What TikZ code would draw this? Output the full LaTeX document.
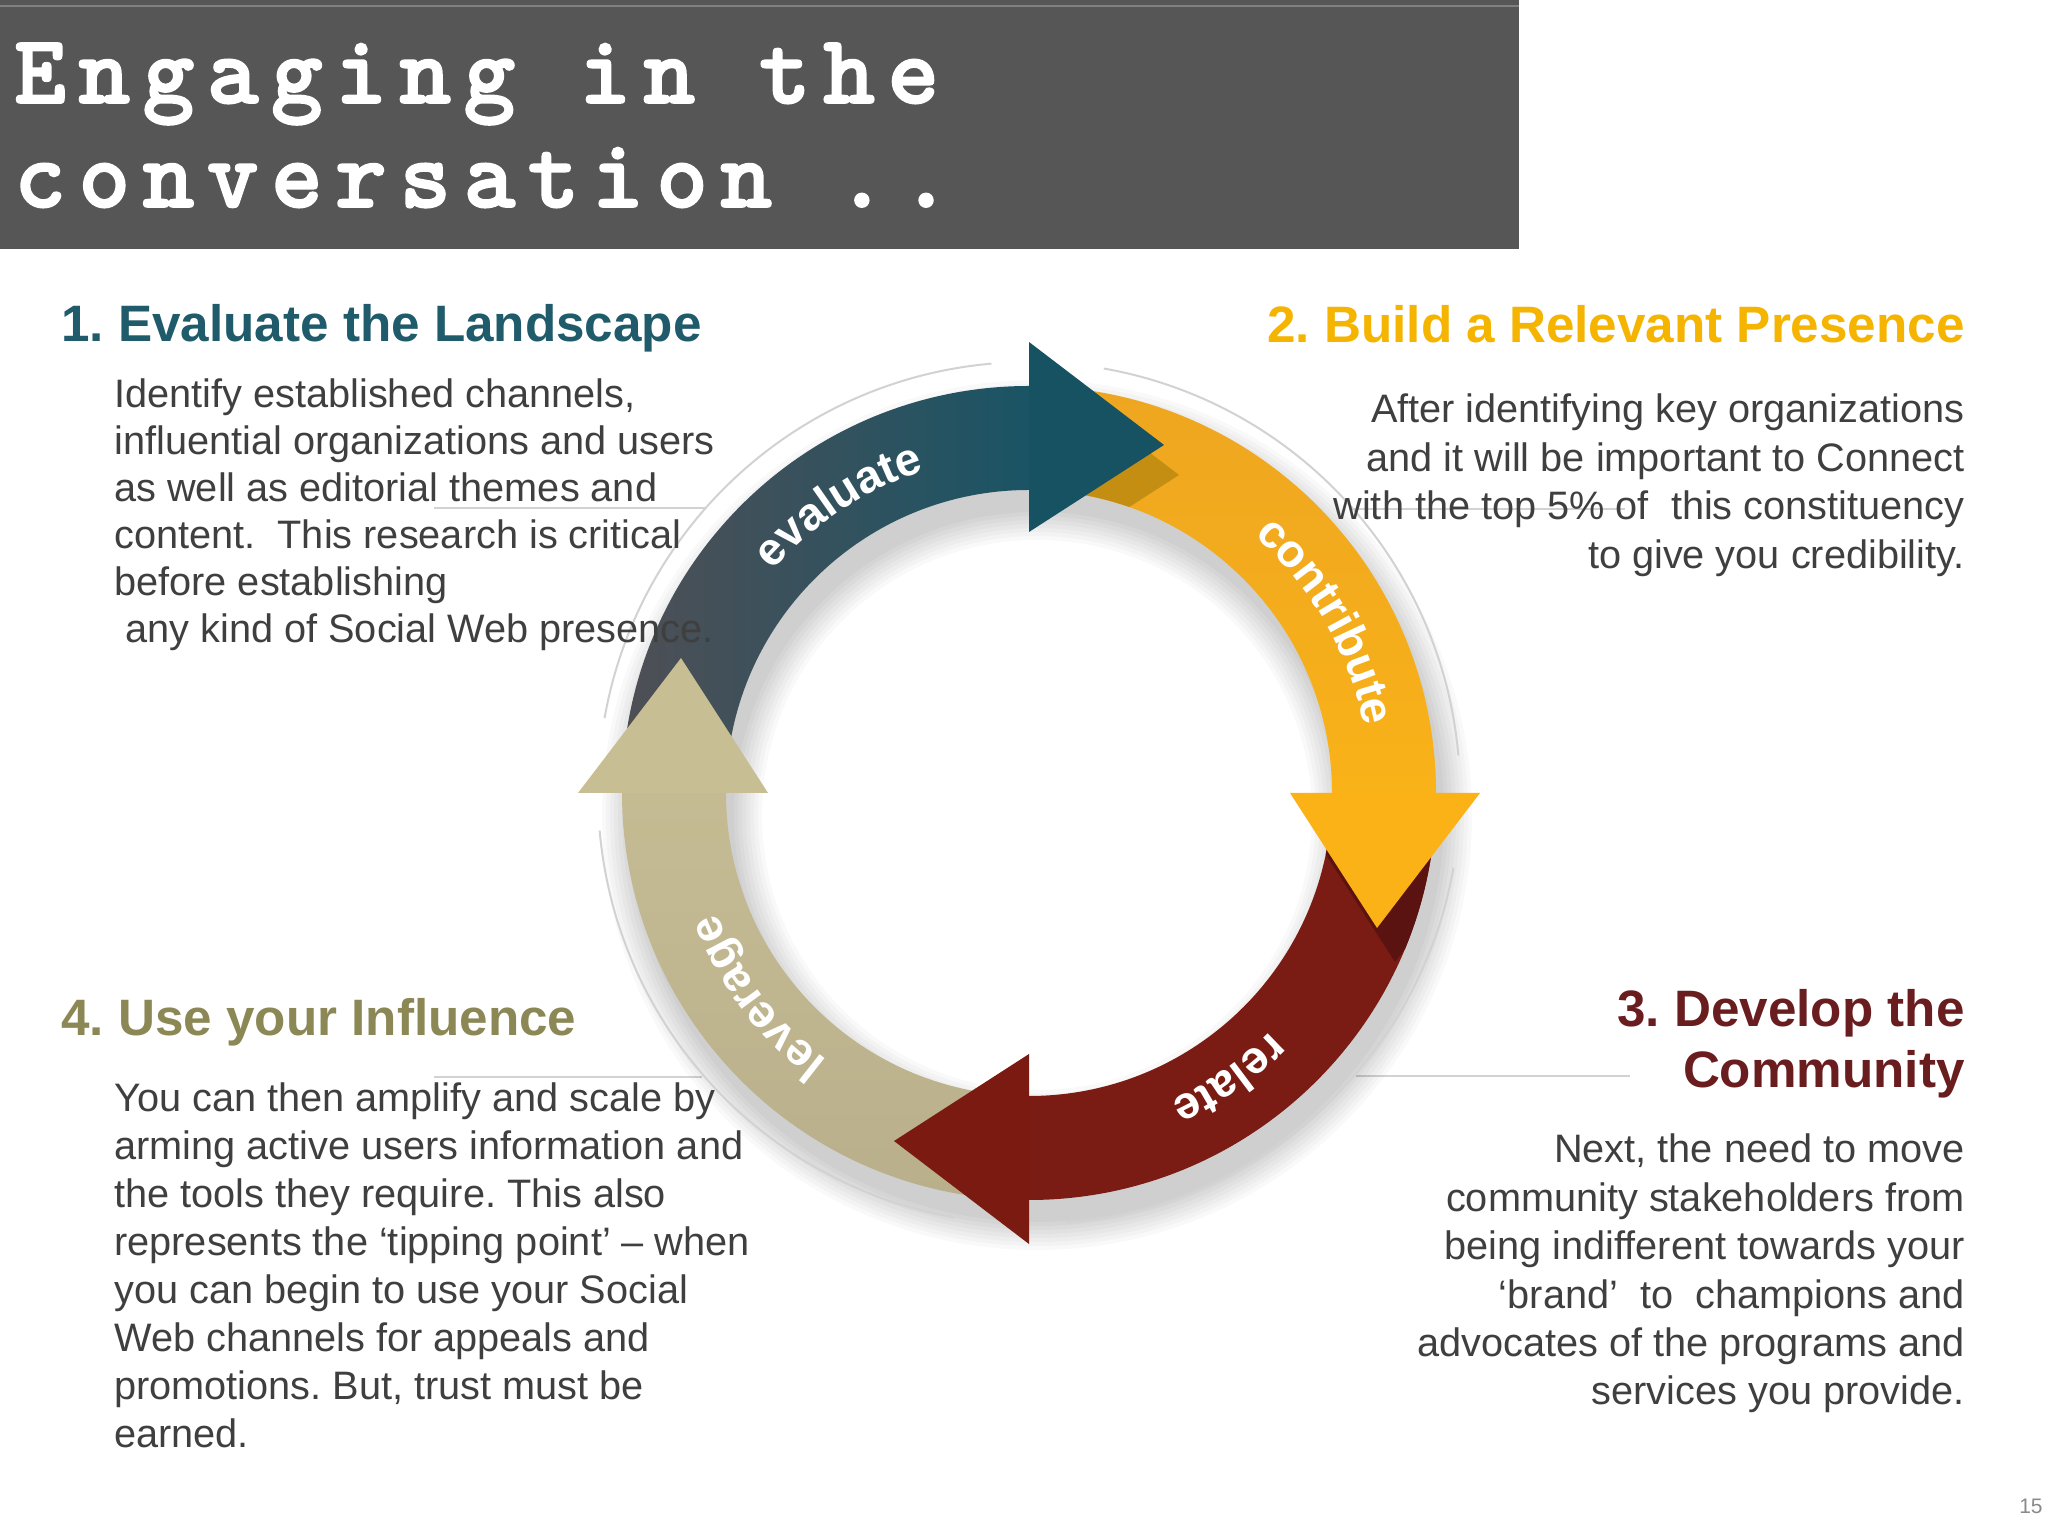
\documentclass[tikz,border=0pt]{standalone}
\usepackage{fontspec}
\setmainfont{Liberation Sans}
\newfontfamily\titlefont{lmmonolt10-bold.otf}[LetterSpace=13, FakeBold=2]
\usetikzlibrary{decorations.text}
\frenchspacing
\definecolor{titlebar}{HTML}{565656}
\definecolor{headteal}{HTML}{1F5B6A}
\definecolor{headgold}{HTML}{F5B400}
\definecolor{headmaroon}{HTML}{6A1D1F}
\definecolor{headolive}{HTML}{8B8856}
\definecolor{bodytext}{HTML}{3F3F3F}
\definecolor{numgray}{HTML}{8A8A8A}
\definecolor{evgray}{HTML}{4F4F55}
\definecolor{evteal}{HTML}{1A5465}
\definecolor{evhead}{HTML}{175262}
\definecolor{goldA}{HTML}{EEA621}
\definecolor{goldB}{HTML}{F9B218}
\definecolor{goldhead}{HTML}{FAB216}
\definecolor{goldshadow}{HTML}{C48E12}
\definecolor{redbody}{HTML}{7A1C13}
\definecolor{redhead}{HTML}{7A1A11}
\definecolor{redshadow}{HTML}{5A1310}
\definecolor{khakiA}{HTML}{B9AF8B}
\definecolor{khakiB}{HTML}{C5BB93}
\definecolor{khakihead}{HTML}{C8BE93}
\definecolor{faintline}{HTML}{D2D2D2}
\newcommand\arclabelfont{\bfseries\fontsize{23}{23}\selectfont}
\tikzset{
  titletext/.style={font={\titlefont\fontsize{49}{50}\selectfont}, text=white, inner sep=0pt},
  headtext/.style={font={\bfseries\fontsize{25.6}{30.5}\selectfont}, inner sep=0pt},
  bodypara/.style={text=bodytext, inner sep=0pt},
  decoline/.style={draw=faintline, line width=1.4pt},
  faintarc/.style={draw=faintline, line width=1pt},
  arclabel/.style={decorate, decoration={text along path, text align=center, text color=white}},
}
\begin{document}
\begin{tikzpicture}[x=0.5pt,y=0.5pt]
\useasboundingbox (0,0) rectangle (2048,1536);
\fill[white] (0,0) rectangle (2048,1536);
% title bar
\fill[titlebar] (0,1287) rectangle (1519,1536);
\draw[color=white!25!titlebar, line width=1pt] (0,1530) -- (1519,1530);
\node[titletext, anchor=base west] (title1) at (14,1433) {Engaging in the};
\node[titletext, anchor=base west] (title2) at (14,1329) {conversation ..};
% decorative lines
\draw[decoline] (434,1028) -- (706,1028);
\draw[decoline] (1352,1027) -- (1625,1027);
\draw[decoline] (434,459) -- (702,459);
\draw[decoline] (1356,460) -- (1630,460);
% cycle
\begin{scope}[shift={(1029,743)}]
  % soft shadow
  \foreach \k in {0,...,7}{
    \fill[black, opacity=0.022, even odd rule] (8,-22) circle[radius=407+4*\k] (8,-22) circle[radius=303-4*\k];
  }
  % faint outer arcs
  \draw[faintarc] (95:431) arc[start angle=95, end angle=170, radius=431];
  \draw[faintarc] (185:431) arc[start angle=185, end angle=260, radius=431];
  \draw[faintarc] (275:431) arc[start angle=275, end angle=350, radius=431];
  \draw[faintarc] (5:431) arc[start angle=5, end angle=80, radius=431];
  % bodies
  \shade[left color=evgray, right color=evteal]
    (175:407) arc[start angle=175, end angle=90, radius=407] -- (90:303) arc[start angle=90, end angle=175, radius=303] -- cycle;
  \shade[top color=goldA, bottom color=goldB]
    (85:407) arc[start angle=85, end angle=0, radius=407] -- (0:303) arc[start angle=0, end angle=85, radius=303] -- cycle;
  \fill[redbody]
    (-5:407) arc[start angle=-5, end angle=-90, radius=407] -- (-90:303) arc[start angle=-90, end angle=-5, radius=303] -- cycle;
  \shade[bottom color=khakiA, top color=khakiB]
    (265:407) arc[start angle=265, end angle=180, radius=407] -- (180:303) arc[start angle=180, end angle=265, radius=303] -- cycle;
  % head shadows
  \begin{scope}
    \clip (85:407) arc[start angle=85, end angle=0, radius=407] -- (0:303) arc[start angle=0, end angle=85, radius=303] -- cycle;
    \fill[goldshadow, shift={(15,-30)}] (90:261) -- (90:451) -- (68.8:373.3) -- cycle;
  \end{scope}
  \begin{scope}
    \clip (-5:407) arc[start angle=-5, end angle=-90, radius=407] -- (-90:303) arc[start angle=-90, end angle=-5, radius=303] -- cycle;
    \fill[redshadow, shift={(18,-34)}] (0:261) -- (0:451) -- (-21.2:373.3) -- cycle;
  \end{scope}
  % heads
  \fill[evhead] (90:261) -- (90:451) -- (68.8:373.3) -- cycle;
  \fill[goldhead] (0:261) -- (0:451) -- (-21.2:373.3) -- cycle;
  \fill[redhead] (-90:261) -- (-90:451) -- (-111.2:373.3) -- cycle;
  \fill[khakihead] (180:261) -- (180:451) -- (158.8:373.3) -- cycle;
  % labels
  \path[arclabel, decoration={text={|\arclabelfont|evaluate}}]
    (161.5:339) arc[start angle=161.5, end angle=85.5, radius=339];
  \path[arclabel, decoration={text={|\arclabelfont|contribute}}]
    (70:342) arc[start angle=70, end angle=-10, radius=342];
  \path[arclabel, decoration={text={|\arclabelfont|relate}}]
    (-17:339) arc[start angle=-17, end angle=-93, radius=339];
  \path[arclabel, decoration={text={|\arclabelfont|leverage}}]
    (255:335) arc[start angle=255, end angle=179, radius=335];
\end{scope}
% headings
\node[headtext, text=headteal, anchor=base west] (h1) at (61,1194) {1. Evaluate the Landscape};
\node[headtext, text=headgold, anchor=base east] (h2) at (1965,1193) {2. Build a Relevant Presence};
\node[headtext, text=headmaroon, anchor=base east] (h3) at (1965,509)
  {\parbox[t]{400pt}{\raggedleft 3. Develop the\\ Community}};
\node[headtext, text=headolive, anchor=base west] (h4) at (61,500) {4. Use your Influence};
% body paragraphs
\node[bodypara, anchor=base west] (p1) at (114,1128) {\parbox[t]{360pt}{\fontsize{19.85}{23.5}\selectfont\raggedright
Identify established channels,\\
influential organizations and users\\
as well as editorial themes and\\
content.~ This research is critical\\
before establishing\\
\hspace*{0.28em}any kind of Social Web presence.}};
\node[bodypara, anchor=base east] (p2) at (1965,1113) {\parbox[t]{400pt}{\fontsize{19.85}{24.25}\selectfont\raggedleft
After identifying key organizations\\
and it will be important to Connect\\
with the top 5\% of~ this constituency\\
to give you credibility.}};
\node[bodypara, anchor=base east] (p3) at (1965,373) {\parbox[t]{400pt}{\fontsize{19.85}{24.2}\selectfont\raggedleft
Next, the need to move\\
community stakeholders from\\
being indifferent towards your\\
‘brand’~ to~ champions and\\
advocates of the programs and\\
services you provide.}};
\node[bodypara, anchor=base west] (p4) at (114,424) {\parbox[t]{360pt}{\fontsize{19.85}{24}\selectfont\raggedright
You can then amplify and scale by\\
arming active users information and\\
the tools they require. This also\\
represents the ‘tipping point’ – when\\
you can begin to use your Social\\
Web channels for appeals and\\
promotions. But, trust must be\\
earned.}};
% page number
\node[anchor=base east, inner sep=0pt, text=numgray, font={\fontsize{10.5}{12}\selectfont}] (pagenum) at (2043,23) {15};
\end{tikzpicture}
\end{document}
